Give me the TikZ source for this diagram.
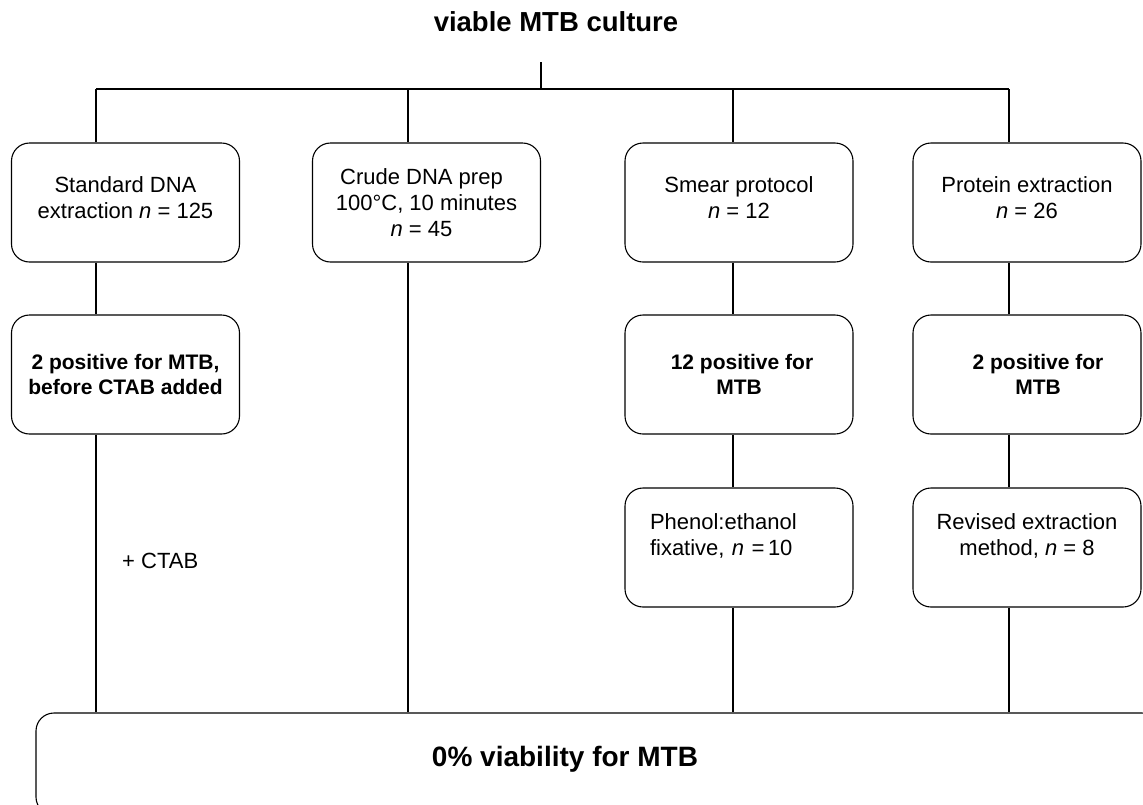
\documentclass[tikz,border=0pt]{standalone}
\usepackage{fontspec}
\setmainfont{Liberation Sans}
\newcommand\lowstrut{\rule[-10pt]{0pt}{10pt}}
\begin{document}
\begin{tikzpicture}[x=1pt,y=-1pt,
  conn/.style={line width=1.1pt},
  box/.style={draw, line width=1.1pt, rounded corners=18pt, minimum width=228pt,
    minimum height=119pt, inner sep=0pt, align=center,
    font=\fontsize{22}{26}\selectfont},
  boldbox/.style={box, font=\fontsize{21}{25}\selectfont\bfseries},
  big/.style={font=\fontsize{27.5}{33}\selectfont\bfseries, inner sep=0pt}]
\useasboundingbox (0,0) rectangle (1143,804);
\fill[white] (0,0) rectangle (1143,804);
\clip (0,0) rectangle (1143,804);

% title
\node[big, anchor=base] (title) at (556,31.7) {viable MTB culture};

% first row
\node[box] (A1) at (125.5,202.5) {Standard DNA\\extraction \textit{n} = 125\lowstrut};
\node[box] (B1) at (426.5,202.5) {Crude DNA prep\hspace*{10pt}\\100°C, 10 minutes\hspace*{10pt}\\\textit{n} = 45\hspace*{10pt}};
\node[box] (C1) at (739,202.5) {Smear protocol\\\textit{n} = 12\lowstrut};
\node[box] (D1) at (1027,202.5) {Protein extraction\\\textit{n} = 26\lowstrut};

% second row
\node[boldbox] (A2) at (125.5,374.5) {2 positive for MTB,\\before CTAB added};
\node[boldbox] (C2) at (739,374.5) {\hspace*{6pt}12 positive for\\MTB};
\node[boldbox] (D2) at (1027,374.5) {\hspace*{22pt}2 positive for\\\hspace*{22pt}MTB};

% third row
\node[box, text width=178pt, align=left] (C3) at (739,547.5) {Phenol:ethanol\\fixative, \textit{n =}\,10\\\mbox{}};
\node[box] (D3) at (1027,547.5) {Revised extraction\\method, \textit{n} = 8\\\mbox{}};

% label
\node[anchor=base west, inner sep=0pt, font=\fontsize{22}{26}\selectfont] (ctab) at (122,568) {+ CTAB};

% bottom box
\node[draw, line width=1.1pt, rounded corners=18pt, minimum width=1124pt,
  minimum height=102pt, inner sep=0pt] (E) at (598,764) {};
\node[big, font=\fontsize{28}{34}\selectfont\bfseries, anchor=base] (etext) at (565,766) {0\% viability for MTB};

% connectors
\coordinate (t) at (541,62);
\coordinate (tb) at (541,89);
\coordinate (b1) at (96,89);
\coordinate (b2) at (408,89);
\coordinate (b3) at (733,89);
\coordinate (b4) at (1009,89);

\draw[conn] (t) -- (tb);
\draw[conn] (b1) -- (b4);

\draw[conn] (b1) -- (b1 |- A1.north);
\draw[conn] (A1.south -| b1) -- (A2.north -| b1);
\draw[conn] (A2.south -| b1) -- (E.north -| b1);

\draw[conn] (b2) -- (b2 |- B1.north);
\draw[conn] (B1.south -| b2) -- (E.north -| b2);

\draw[conn] (b3) -- (b3 |- C1.north);
\draw[conn] (C1.south -| b3) -- (C2.north -| b3);
\draw[conn] (C2.south -| b3) -- (C3.north -| b3);
\draw[conn] (C3.south -| b3) -- (E.north -| b3);

\draw[conn] (b4) -- (b4 |- D1.north);
\draw[conn] (D1.south -| b4) -- (D2.north -| b4);
\draw[conn] (D2.south -| b4) -- (D3.north -| b4);
\draw[conn] (D3.south -| b4) -- (E.north -| b4);
\end{tikzpicture}
\end{document}
